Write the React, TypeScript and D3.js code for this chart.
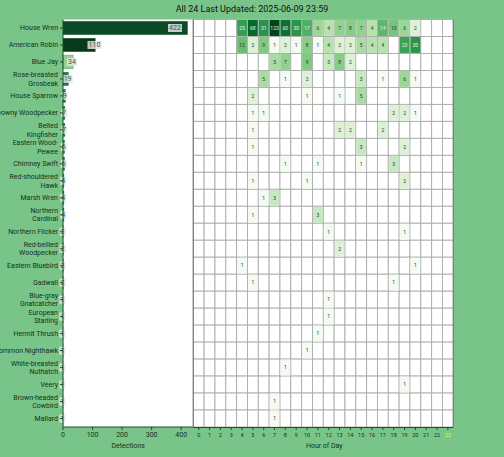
import React from "react";
import * as d3 from "d3";

const title = "All 24 Last Updated: 2025-06-09 23:59";

const species = [
	"House Wren",
	"American Robin",
	"Blue Jay",
	"Rose-breasted Grosbeak",
	"House Sparrow",
	"Downy Woodpecker",
	"Belted Kingfisher",
	"Eastern Wood-Pewee",
	"Chimney Swift",
	"Red-shouldered Hawk",
	"Marsh Wren",
	"Northern Cardinal",
	"Northern Flicker",
	"Red-bellied Woodpecker",
	"Eastern Bluebird",
	"Gadwall",
	"Blue-gray Gnatcatcher",
	"European Starling",
	"Hermit Thrush",
	"Common Nighthawk",
	"White-breasted Nuthatch",
	"Veery",
	"Brown-headed Cowbird",
	"Mallard",
];

const totals = [422, 110, 34, 19, 9, 7, 7, 6, 6, 4, 4, 4, 2, 2, 2, 2, 1, 1, 1, 1, 1, 1, 1, 1];

// species names that are drawn on two lines
const wrappedNames = [
	"Rose-breasted Grosbeak",
	"Belted Kingfisher",
	"Eastern Wood-Pewee",
	"Red-shouldered Hawk",
	"Northern Cardinal",
	"Red-bellied Woodpecker",
	"Blue-gray Gnatcatcher",
	"European Starling",
	"White-breasted Nuthatch",
	"Brown-headed Cowbird",
];

const hours = [0, 1, 2, 3, 4, 5, 6, 7, 8, 9, 10, 11, 12, 13, 14, 15, 16, 17, 18, 19, 20, 21, 22, 23];
const currentHour = 23;
const detectionTicks = [0, 100, 200, 300, 400];

// [hour, count] per species, same order as species
const hourlyCounts: [number, number][][] = [
	[[4, 25], [5, 68], [6, 31], [7, 123], [8, 60], [9, 30], [10, 17], [11, 6], [12, 4], [13, 7], [14, 8], [15, 7], [16, 4], [17, 14], [18, 10], [19, 6], [20, 2]],
	[[4, 12], [5, 2], [6, 9], [7, 1], [8, 2], [9, 1], [10, 8], [11, 1], [12, 4], [13, 2], [14, 2], [15, 5], [16, 4], [17, 4], [19, 23], [20, 30]],
	[[7, 5], [8, 7], [10, 9], [12, 3], [13, 8], [14, 2]],
	[[6, 5], [8, 1], [10, 2], [15, 3], [17, 1], [19, 6], [20, 1]],
	[[5, 2], [10, 1], [13, 1], [15, 5]],
	[[5, 1], [6, 1], [18, 2], [19, 2], [20, 1]],
	[[5, 1], [13, 2], [14, 2], [17, 2]],
	[[5, 1], [15, 3], [19, 2]],
	[[8, 1], [11, 1], [15, 1], [18, 3]],
	[[5, 1], [10, 1], [19, 2]],
	[[6, 1], [7, 3]],
	[[5, 1], [11, 3]],
	[[12, 1], [19, 1]],
	[[13, 2]],
	[[4, 1], [20, 1]],
	[[5, 1], [18, 1]],
	[[12, 1]],
	[[12, 1]],
	[[11, 1]],
	[[10, 1]],
	[[8, 1]],
	[[19, 1]],
	[[7, 1]],
	[[7, 1]],
];

const W = 504;
const H = 457;
const BG = "#79c589";
const FONT = "Roboto, 'Liberation Sans', sans-serif";
const barPalette = ["#0c4b27", "#063a1b", "#93d193", "#1f7a3c"];

function splitLabel(name: string) {
	if (!wrappedNames.includes(name)) return [name];
	const i = Math.max(name.lastIndexOf(" "), name.lastIndexOf("-"));
	if (name[i] === "-") return [name.slice(0, i + 1), name.slice(i + 1)];
	return [name.slice(0, i), name.slice(i + 1)];
}

export default function App() {
	const top = 19.5;
	const bottom = 427;
	const barLeft = 63;
	const barRight = 193.3;
	const heatRight = 453.3;

	const y = d3.scaleBand<string>().domain(species).range([top, bottom]);
	const yBar = d3.scaleBand<string>().domain(species).range([top, bottom]).paddingInner(0.2).paddingOuter(0.1);
	const x = d3.scaleLinear().domain([0, 441]).range([barLeft, barRight]);
	const xh = d3.scaleBand<number>().domain(hours).range([barRight, heatRight]);
	const maxCount = d3.max(hourlyCounts.flat(), (d) => d[1]) || 1;
	const colorT = d3.scaleLog().domain([1, maxCount]).range([0.02, 1]);
	const color = (v: number) => d3.interpolateGreens(colorT(v));

	return (
		<svg width={W} height={H} style={{ position: "absolute", left: 0, top: 0, fontFamily: FONT }}>
			<rect width={W} height={H} fill={BG} />
			<text x={W / 2} y={12} textAnchor="middle" fontSize={9} fill="#111">
				{title}
			</text>

			{/* bar chart */}
			<rect x={barLeft} y={top} width={barRight - barLeft} height={bottom - top} fill="#fff" />
			{species.map((s, i) => (
				<rect
					key={s}
					x={x(0)}
					y={yBar(s)}
					width={x(totals[i]) - x(0)}
					height={yBar.bandwidth()}
					fill={barPalette[i] || "#1f7a3c"}
					stroke={i === 2 ? "#5aa866" : "none"}
					strokeWidth={0.6}
				/>
			))}
			{species.map((s, i) => {
				const label = String(totals[i]);
				const w = label.length * 4 + 2;
				const cx = Math.min(x(totals[i]) - 1, 175);
				const cy = (yBar(s) || 0) + yBar.bandwidth() / 2;
				return (
					<g key={s}>
						<rect x={cx - w / 2} y={cy - 4} width={w} height={8} fill="#e4e4e4" opacity={0.85} />
						<text x={cx} y={cy + 2.5} textAnchor="middle" fontSize={7} fill="#3b5a42">
							{label}
						</text>
					</g>
				);
			})}
			{/* y axis */}
			<line x1={barLeft} x2={barLeft} y1={top} y2={bottom} stroke="#1d4d2a" />
			{species.map((s) => {
				const cy = (y(s) || 0) + y.bandwidth() / 2;
				const lines = splitLabel(s);
				return (
					<g key={s}>
						<line x1={barLeft - 3} x2={barLeft} y1={cy} y2={cy} stroke="#1d4d2a" />
						<text x={barLeft - 5} y={cy} textAnchor="end" fontSize={7} fill="#163019">
							{lines.map((l, j) => (
								<tspan key={j} x={barLeft - 5} dy={j === 0 ? (lines.length === 1 ? 2.5 : -1.8) : 8.5}>
									{l}
								</tspan>
							))}
						</text>
					</g>
				);
			})}
			{/* x axis detections */}
			<line x1={barLeft} x2={barRight} y1={bottom} y2={bottom} stroke="#1d4d2a" />
			{detectionTicks.map((t) => (
				<g key={t}>
					<line x1={x(t)} x2={x(t)} y1={bottom} y2={bottom + 3} stroke="#1d4d2a" />
					<text x={x(t)} y={bottom + 10} textAnchor="middle" fontSize={7} fill="#163019">
						{t}
					</text>
				</g>
			))}
			<text x={(barLeft + barRight) / 2} y={bottom + 21} textAnchor="middle" fontSize={7} fill="#163019">
				Detections
			</text>

			{/* heatmap */}
			{species.map((s) =>
				hours.map((h) => (
					<rect
						key={s + h}
						x={xh(h)}
						y={y(s)}
						width={xh.bandwidth()}
						height={y.bandwidth()}
						fill="#fff"
						stroke="#ababab"
						strokeWidth={0.9}
					/>
				))
			)}
			{hourlyCounts.map((row, i) =>
				row.map(([h, c]) => (
					<g key={i + "-" + h}>
						<rect
							x={(xh(h) || 0) + 0.5}
							y={(y(species[i]) || 0) + 0.5}
							width={xh.bandwidth() - 1}
							height={y.bandwidth() - 1}
							fill={color(c)}
						/>
						<text
							x={(xh(h) || 0) + xh.bandwidth() / 2}
							y={(y(species[i]) || 0) + y.bandwidth() / 2 + 1.8}
							textAnchor="middle"
							fontSize={5}
							fill={colorT(c) > 0.53 ? "#e8f3e8" : "#333"}
						>
							{c}
						</text>
					</g>
				))
			)}
			<line x1={barRight} x2={barRight} y1={top} y2={bottom} stroke="#7a7a7a" strokeWidth={1.2} />
			<line x1={heatRight} x2={heatRight} y1={top} y2={bottom} stroke="#7a7a7a" strokeWidth={1.2} />
			{/* hour axis */}
			<line x1={barRight} x2={heatRight} y1={bottom + 0.5} y2={bottom + 0.5} stroke="#1d4d2a" />
			{hours.map((h) => {
				const cx = (xh(h) || 0) + xh.bandwidth() / 2;
				return (
					<g key={h}>
						<line x1={cx} x2={cx} y1={bottom} y2={bottom + 3} stroke="#1d4d2a" />
						<text x={cx} y={bottom + 9.5} textAnchor="middle" fontSize={5.5} fill={h === currentHour ? "#e3ee3c" : "#163019"}>
							{h}
						</text>
					</g>
				);
			})}
			<text x={(barRight + heatRight) / 2 + 1} y={bottom + 21} textAnchor="middle" fontSize={7} fill="#163019">
				Hour of Day
			</text>
		</svg>
	);
}
